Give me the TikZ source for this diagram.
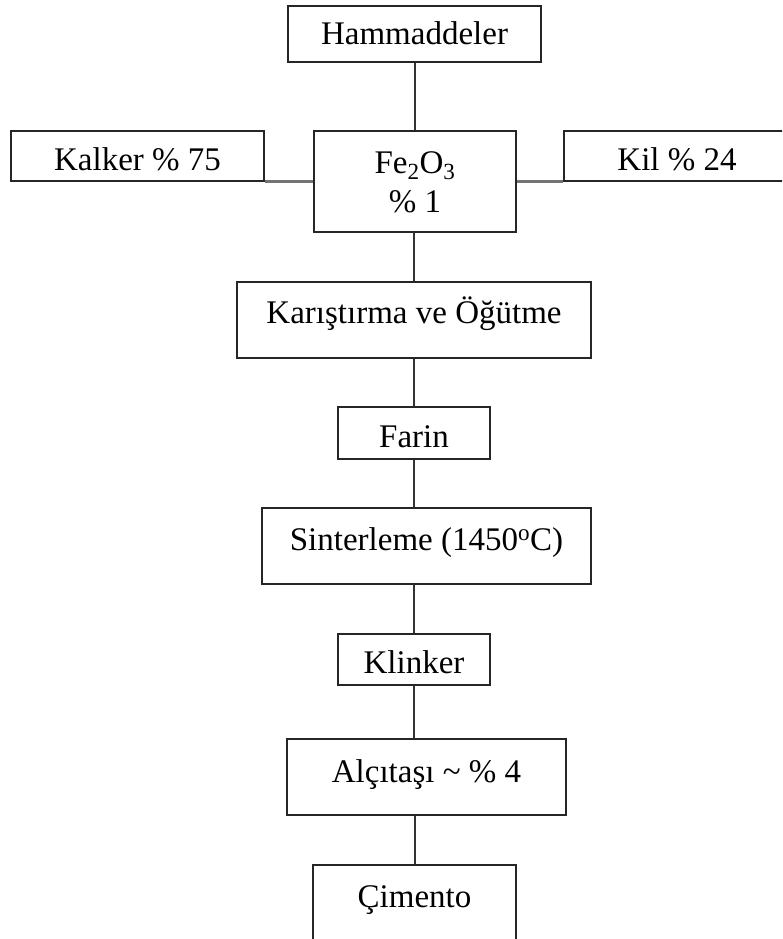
\documentclass[tikz,border=0pt]{standalone}
\usepackage{fontspec}
\setmainfont{Liberation Serif}
\newcommand{\bl}[2]{\raisebox{-#1pt}[0pt][0pt]{#2}}
\begin{document}
\begin{tikzpicture}[x=1pt,y=-1pt,
  box/.style={draw=black!85, line width=2pt, inner sep=0pt, fill=white},
  link/.style={draw=black!80, line width=2pt},
  side/.style={draw=black!55, line width=3pt},
  every node/.style={font=\fontsize{33}{39}\selectfont}]
\useasboundingbox (0,0) rectangle (782,939);
\clip (0,0) rectangle (782,939);
% boxes
\node[box, minimum width=253pt, minimum height=56pt] (ham) at (414.5,34) {\bl{11}{Hammaddeler}};
\node[box, minimum width=253pt, minimum height=50pt] (kal) at (137.5,156) {\bl{14}{Kalker \% 75}};
\node[box, minimum width=202pt, minimum height=101pt] (fe) at (415,181.5)
  {\bl{-8.5}{\begin{tabular}[t]{@{}c@{}}Fe\textsubscript{2}O\textsubscript{3}\\\% 1\end{tabular}}};
\node[box, minimum width=226pt, minimum height=50pt] (kil) at (677,156) {\bl{14}{Kil \% 24}};
\node[box, minimum width=354pt, minimum height=76pt] (kar) at (414,320) {\bl{3}{Karıştırma ve Öğütme}};
\node[box, minimum width=152pt, minimum height=52pt] (far) at (414,433) {\bl{14}{Farin}};
\node[box, minimum width=329pt, minimum height=76pt] (sin) at (426.5,546) {\bl{4}{Sinterleme (1450\textsuperscript{o}C)}};
\node[box, minimum width=152pt, minimum height=51pt] (kli) at (414,659.5) {\bl{13.5}{Klinker}};
\node[box, minimum width=279pt, minimum height=76pt] (alc) at (426.5,777) {\bl{5}{Alçıtaşı \textasciitilde\ \% 4}};
\node[box, minimum width=203pt, minimum height=80pt] (cim) at (414.5,905) {\bl{2}{Çimento}};
% connectors
\draw[link] (ham.south) -- (ham.south |- fe.north);
\draw[side] ([yshift=1pt]kal.south east) -- ([yshift=1pt]kal.south east -| fe.west);
\draw[side] ([yshift=1pt]fe.east |- kil.south west) -- ([yshift=1pt]kil.south west);
\draw[link] (fe.south -| kar.north) -- (kar.north);
\draw[link] (kar.south) -- (far.north);
\draw[link] (far.south) -- (far.south |- sin.north);
\draw[link] (kli.north |- sin.south) -- (kli.north);
\draw[link] (kli.south) -- (kli.south |- alc.north);
\draw[link] (cim.north |- alc.south) -- (cim.north);
\end{tikzpicture}
\end{document}
